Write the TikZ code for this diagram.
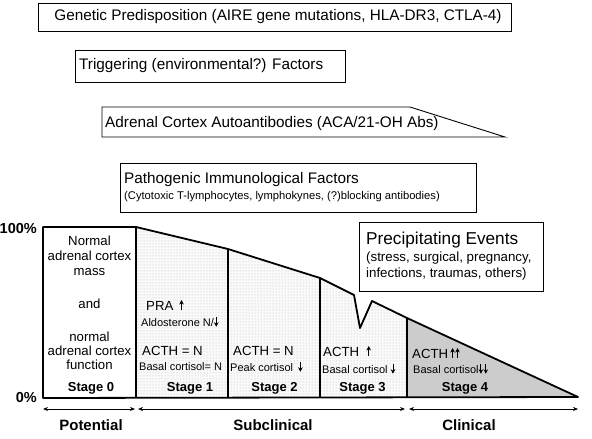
\documentclass[tikz,border=0pt]{standalone}
\usepackage{fontspec}
\setmainfont{Liberation Sans}
\usetikzlibrary{patterns,arrows.meta}
\newcommand{\myuparr}{\tikz[baseline=0pt]\draw[line width=0.9pt,-{Stealth[length=4.5pt,width=4.6pt]}] (0pt,0pt)--(0pt,10pt);}
\newcommand{\mydnarr}{\tikz[baseline=0pt]\draw[line width=0.9pt,-{Stealth[length=4.5pt,width=4.6pt]}] (0pt,9pt)--(0pt,-0.5pt);}
\tikzset{
  big/.style={font=\fontsize{15.3}{17}\selectfont},
  med/.style={font=\fontsize{13.2}{15}\selectfont},
  small/.style={font=\fontsize{13.3}{15}\selectfont},
  tiny/.style={font=\fontsize{11}{12}\selectfont},
  stagelbl/.style={font=\fontsize{13}{15}\selectfont\bfseries},
  phaselbl/.style={font=\fontsize{15}{17}\selectfont\bfseries},
  outline/.style={line width=1.8pt, line join=round},
  frame/.style={line width=0.9pt},
  span/.style={{Stealth[length=5pt,width=4pt]}-{Stealth[length=5pt,width=4pt]}, line width=0.7pt},
}
\begin{document}
\begin{tikzpicture}[x=1pt,y=-1pt]
\useasboundingbox (0,0) rectangle (592,439);
% top boxes
\draw[frame] (38,3) rectangle (511,31);
\node[big] (gen) at (278,17) {Genetic Predisposition (AIRE gene mutations, HLA-DR3, CTLA-4)};
\draw[frame] (75,50) rectangle (345,82);
\node[big, anchor=west, inner sep=0pt] (trig) at (79,66) {Triggering (environmental?) Factors};
\draw[frame] (102,137) -- (102,107) -- (410,107) -- (505,137) -- cycle;
\node[big, anchor=west, inner sep=0pt] (aca) at (105,124) {Adrenal Cortex Autoantibodies (ACA/21-OH Abs)};
\draw[frame] (120,163) rectangle (476,212);
\node[big, anchor=west, inner sep=0pt] (path) at (124,180) {Pathogenic Immunological Factors};
\node[font=\fontsize{11.2}{13}\selectfont, anchor=west, inner sep=0pt] (pathsub) at (124,197) {(Cytotoxic T-lymphocytes, lymphokynes, (?)blocking antibodies)};
% chart fills
\fill[gray!4] (136,398) -- (136,227) -- (228,249) -- (320,278) -- (354,295) -- (360,328) -- (372,301) -- (407,318) -- (407,398) -- cycle;
\fill[pattern=dots, pattern color=gray!55] (136,398) -- (136,227) -- (228,249) -- (320,278) -- (354,295) -- (360,328) -- (372,301) -- (407,318) -- (407,398) -- cycle;
\fill[gray!40] (407,398) -- (407,318) -- (578,397) -- cycle;
% outline
\draw[outline] (43,398) -- (43,227) -- (136,227) -- (228,249) -- (320,278) -- (354,295) -- (360,328) -- (372,301) -- (407,318) -- (578,397) -- cycle;
\draw[outline] (136,227) -- (136,398);
\draw[outline] (228,249) -- (228,398);
\draw[outline] (320,278) -- (320,398);
\draw[outline] (407,318) -- (407,398);
% precipitating events
\draw[frame, fill=white] (359,222) rectangle (543,291);
\node[font=\fontsize{17.2}{19}\selectfont, anchor=west, inner sep=0pt] (prec) at (366,240) {Precipitating Events};
\node[small, anchor=west, inner sep=0pt] (prec1) at (366,258) {(stress, surgical, pregnancy,};
\node[small, anchor=west, inner sep=0pt] (prec2) at (366,274) {infections, traumas, others)};
% axis labels
\node[font=\fontsize{14.5}{16}\selectfont\bfseries, anchor=east, inner sep=0pt] (p100) at (37,229) {100\%};
\node[font=\fontsize{14.5}{16}\selectfont\bfseries, anchor=east, inner sep=0pt] (p0) at (37,398) {0\%};
% stage 0
\node[med, align=center] (s0a) at (89.5,256) {Normal\\[0pt]adrenal cortex\\[0pt]mass};
\node[med] (s0b) at (89.5,304) {and};
\node[med, align=center] (s0c) at (89.5,351) {normal\\[-1pt]adrenal cortex\\[-1pt]function};
\node[stagelbl] (st0) at (91,388) {Stage 0};
% stage 1
\node[med, anchor=west, inner sep=0pt] (pra) at (146,305) {PRA\, \myuparr};
\node[tiny, anchor=west, inner sep=0pt] (aldo) at (141,322) {Aldosterone N/\mydnarr};
\node[med, anchor=west, inner sep=0pt] (acth1) at (142,351) {ACTH = N};
\node[tiny, anchor=west, inner sep=0pt] (bc1) at (139,367) {Basal cortisol= N};
\node[stagelbl] (st1) at (190,388) {Stage 1};
% stage 2
\node[med, anchor=west, inner sep=0pt] (acth2) at (233,351) {ACTH = N};
\node[tiny, anchor=west, inner sep=0pt] (pc2) at (230,367) {Peak cortisol \,\mydnarr};
\node[stagelbl] (st2) at (274.5,388) {Stage 2};
% stage 3
\node[med, anchor=west, inner sep=0pt] (acth3) at (323,351) {ACTH \;\myuparr};
\node[tiny, anchor=west, inner sep=0pt] (bc3) at (322,369) {Basal cortisol \mydnarr};
\node[stagelbl] (st3) at (362.5,388) {Stage 3};
% stage 4
\node[med, anchor=west, inner sep=0pt] (acth4) at (412,353) {ACTH\,\myuparr\hspace{0.3pt}\myuparr};
\node[tiny, anchor=west, inner sep=0pt] (bc4) at (413,369) {Basal cortisol\mydnarr\hspace{0.3pt}\mydnarr};
\node[stagelbl] (st4) at (465,388) {Stage 4};
% spans
\coordinate (a0) at (43,409);
\coordinate (a1) at (135,409);
\coordinate (b0) at (138,409);
\coordinate (b1) at (405,409);
\coordinate (c0) at (409,409);
\coordinate (c1) at (578,409);
\draw[span] (a0) -- (a1);
\draw[span] (b0) -- (b1);
\draw[span] (c0) -- (c1);
\node[phaselbl] (pot) at (91,425) {Potential};
\node[phaselbl] (sub) at (273,425) {Subclinical};
\node[phaselbl] (cli) at (469,425) {Clinical};
\end{tikzpicture}
\end{document}
